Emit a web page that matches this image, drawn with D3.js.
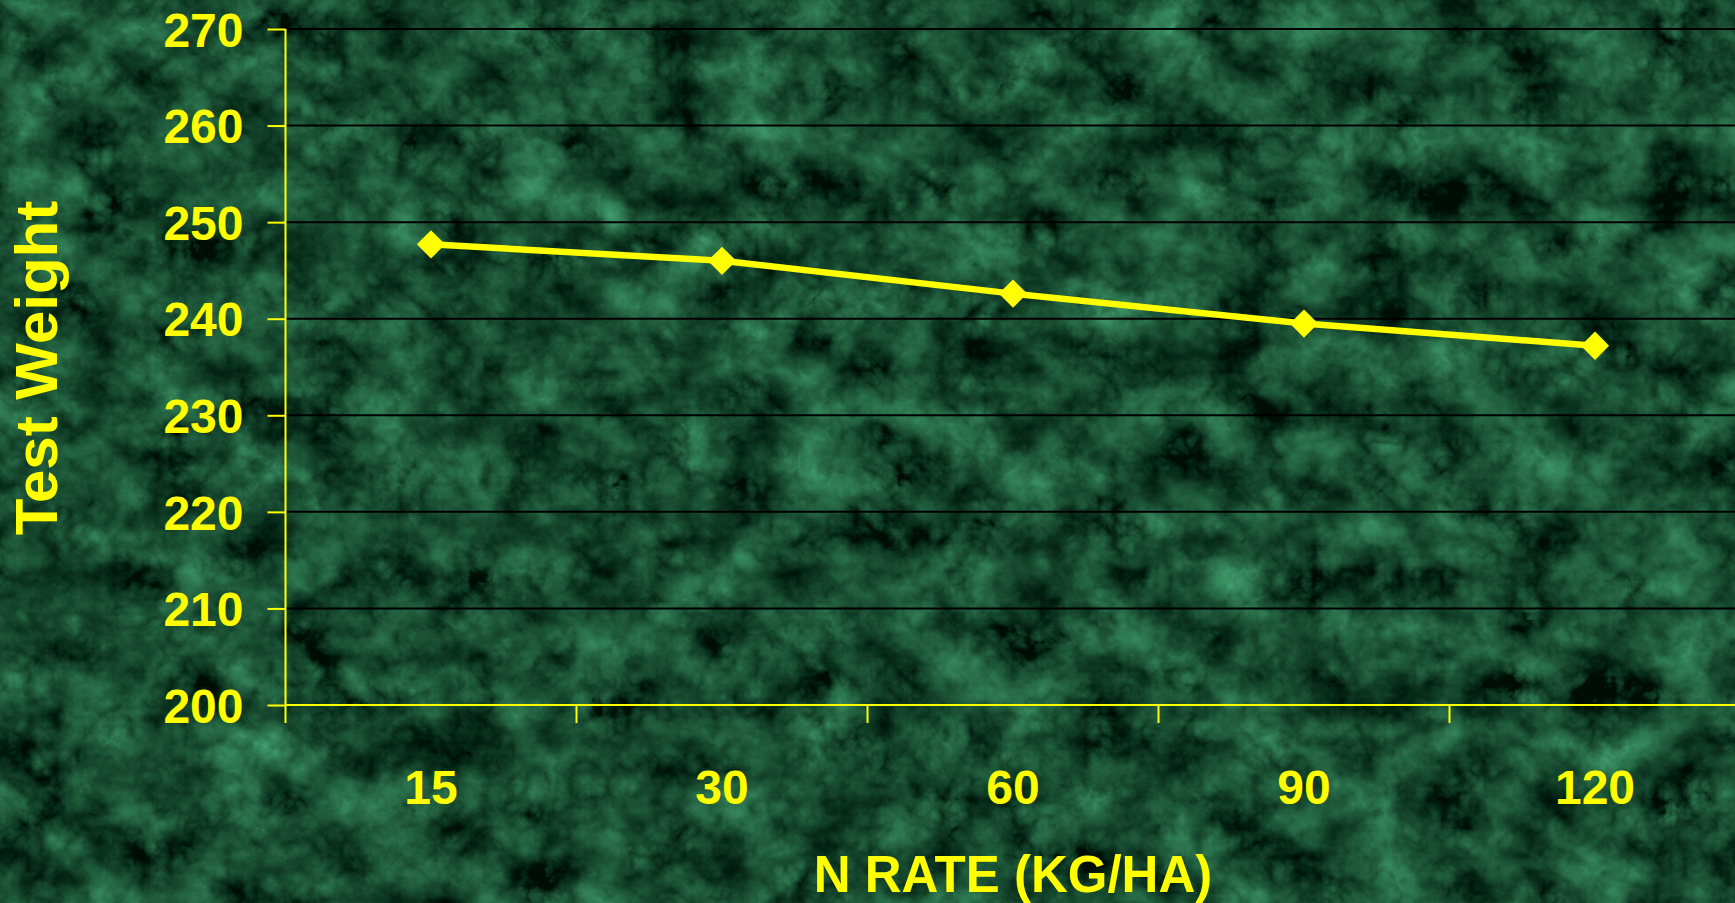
<!DOCTYPE html>
<html>
<head>
<meta charset="utf-8">
<script src="https://cdn.jsdelivr.net/npm/d3@7"></script>
<style>
  html, body { margin: 0; padding: 0; background: #1b5434; overflow: hidden; }
  svg { display: block; }
  text { font-family: "Liberation Sans", Arial, sans-serif; font-weight: bold; fill: #ffff00; }
</style>
</head>
<body>
<div id="chart"></div>
<script>
// chart data
const nRates = ["15", "30", "60", "90", "120"];
const testWeight = [247.7, 246.0, 242.6, 239.5, 237.2];
const yTicks = [200, 210, 220, 230, 240, 250, 260, 270];

const xTitle = "N RATE (KG/HA)";
const yTitle = "Test Weight";

const W = 1735, H = 903;
const yellow = "#ffff00";

const svg = d3.select("#chart")
    .append("svg")
    .attr("width", W)
    .attr("height", H);

// green marble background, made with svg noise filters
const defs = svg.append("defs");
const marble = defs.append("filter")
    .attr("id", "marble")
    .attr("filterUnits", "userSpaceOnUse")
    .attr("color-interpolation-filters", "sRGB")
    .attr("x", 0).attr("y", 0)
    .attr("width", W).attr("height", H);
marble.append("feTurbulence")
    .attr("type", "fractalNoise")
    .attr("baseFrequency", "0.014 0.018")
    .attr("numOctaves", 5)
    .attr("seed", 7)
    .attr("result", "noise");
marble.append("feTurbulence")
    .attr("type", "turbulence")
    .attr("baseFrequency", "0.035")
    .attr("numOctaves", 4)
    .attr("seed", 3)
    .attr("result", "veins");
marble.append("feComposite")
    .attr("in", "noise").attr("in2", "veins")
    .attr("operator", "arithmetic")
    .attr("k1", 0).attr("k2", 0.75).attr("k3", 0.45).attr("k4", -0.08)
    .attr("result", "mix");
marble.append("feColorMatrix")
    .attr("in", "mix")
    .attr("type", "matrix")
    .attr("values",
      "0.35 0 0 0 -0.03  " +
      "0.70 0 0 0 0.05  " +
      "0.50 0 0 0 0.015  " +
      "0 0 0 0 1");

svg.append("rect")
    .attr("width", W).attr("height", H)
    .attr("fill", "#1b5434");
svg.append("rect")
    .attr("width", W).attr("height", H)
    .attr("fill", "#1b5434")
    .attr("filter", "url(#marble)");

// plot area
const plotLeft = 285.5, plotRight = 1740.5, plotTop = 29, plotBottom = 705;

const x = d3.scaleBand()
    .domain(nRates)
    .range([plotLeft, plotRight])
    .padding(0);

const y = d3.scaleLinear()
    .domain([200, 270])
    .range([plotBottom, plotTop]);

// horizontal gridlines
svg.append("g")
  .selectAll("line")
  .data(yTicks.filter(d => d > 200))
  .join("line")
    .attr("x1", plotLeft)
    .attr("x2", W)
    .attr("y1", d => y(d))
    .attr("y2", d => y(d))
    .attr("stroke", "#000")
    .attr("stroke-width", 2);

// y axis
const yAxis = svg.append("g")
    .attr("transform", `translate(${plotLeft},0)`)
    .call(d3.axisLeft(y).tickValues(yTicks).tickSize(18).tickSizeOuter(0).tickPadding(24));
yAxis.select(".domain").attr("stroke", yellow).attr("stroke-width", 2)
    .attr("d", `M0,${plotTop}V${plotBottom + 18}`);
yAxis.selectAll(".tick line").attr("stroke", yellow).attr("stroke-width", 2);
yAxis.selectAll(".tick text")
    .attr("font-size", 48)
    .attr("font-family", "Liberation Sans, Arial, sans-serif")
    .attr("font-weight", "bold")
    .attr("fill", yellow)
    .attr("dy", "0.36em");

// x axis (labels centred in categories, ticks on category edges)
const xAxis = svg.append("g")
    .attr("transform", `translate(0,${plotBottom})`)
    .call(d3.axisBottom(x).tickSize(0).tickPadding(65));
xAxis.select(".domain").attr("stroke", yellow).attr("stroke-width", 2)
    .attr("d", `M${plotLeft},0H${W}`);
xAxis.selectAll(".tick text")
    .attr("font-size", 48)
    .attr("font-family", "Liberation Sans, Arial, sans-serif")
    .attr("font-weight", "bold")
    .attr("fill", yellow);

xAxis.append("g")
  .selectAll("line")
  .data(nRates.slice(1).concat(["end"]))
  .join("line")
    .attr("x1", d => d === "end" ? plotRight : x(d))
    .attr("x2", d => d === "end" ? plotRight : x(d))
    .attr("y1", 0)
    .attr("y2", 18)
    .attr("stroke", yellow)
    .attr("stroke-width", 2);

// series line + diamond markers
const points = nRates.map((r, i) => ({ r, v: testWeight[i] }));
const cx = d => x(d.r) + x.bandwidth() / 2;

svg.append("path")
    .datum(points)
    .attr("fill", "none")
    .attr("stroke", yellow)
    .attr("stroke-width", 6.5)
    .attr("stroke-linejoin", "round")
    .attr("d", d3.line().x(cx).y(d => y(d.v)));

svg.append("g")
  .selectAll("path")
  .data(points)
  .join("path")
    .attr("d", d3.symbol(d3.symbolSquare, 400))
    .attr("transform", d => `translate(${cx(d)},${y(d.v)}) rotate(45)`)
    .attr("fill", yellow);

// axis titles
svg.append("text")
    .attr("x", (plotLeft + plotRight) / 2)
    .attr("y", 892)
    .attr("text-anchor", "middle")
    .attr("font-size", 51)
    .text(xTitle);

svg.append("text")
    .attr("transform", "translate(57,368) rotate(-90)")
    .attr("text-anchor", "middle")
    .attr("font-size", 60)
    .text(yTitle);
</script>
</body>
</html>
